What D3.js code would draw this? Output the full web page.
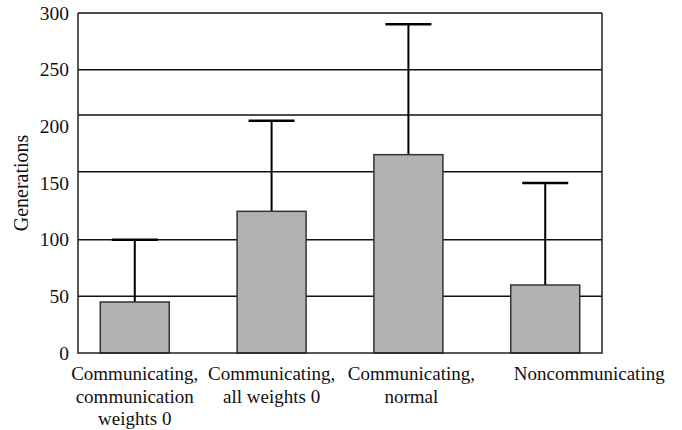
<!DOCTYPE html>
<html><head><meta charset="utf-8">
<script src="https://cdn.jsdelivr.net/npm/d3@7"></script>
<style>body{margin:0;background:#fff}svg{display:block}text{font-family:'Liberation Serif','Times New Roman',serif}</style>
</head><body>
<svg id="c" width="682" height="430"></svg>
<script>
const categories = [
  ["Communicating,", "communication", "weights 0"],
  ["Communicating,", "all weights 0"],
  ["Communicating,", "normal"],
  ["Noncommunicating"]
];
const means = [45, 125, 175, 60];
const errorTops = [100, 205, 290, 150];
const tickValues = [0, 50, 100, 150, 200, 250, 300];
const gridValues = [50, 100, 160, 210, 250, 300];
const yTitle = "Generations";

const svg = d3.select("#c");
const font = "'Liberation Serif','Times New Roman',serif";
const L = 78, R = 602, T = 13, B = 353;
const x = d3.scalePoint().domain(d3.range(categories.length)).range([L, R]).padding(0.415);
const y = d3.scaleLinear().domain([0, 300]).range([B, T]);
const barW = 69, capW = 46;
const labelShift = [0, 0, 3, 44];

// gridlines
svg.append("g").selectAll("line").data(gridValues).join("line")
  .attr("x1", L).attr("x2", R).attr("y1", d => y(d)).attr("y2", d => y(d))
  .attr("stroke", "#111").attr("stroke-width", 1.5);

// error bars
const eb = svg.append("g");
eb.selectAll("line.v").data(means).join("line").attr("class","v")
  .attr("x1", (d,i) => x(i)).attr("x2", (d,i) => x(i))
  .attr("y1", d => y(d)).attr("y2", (d,i) => y(errorTops[i]))
  .attr("stroke", "#000").attr("stroke-width", 2);
eb.selectAll("line.c").data(errorTops).join("line").attr("class","c")
  .attr("x1", (d,i) => x(i) - capW/2).attr("x2", (d,i) => x(i) + capW/2)
  .attr("y1", d => y(d)).attr("y2", d => y(d))
  .attr("stroke", "#000").attr("stroke-width", 2.5);

// bars
svg.append("g").selectAll("rect").data(means).join("rect")
  .attr("x", (d,i) => x(i) - barW/2).attr("width", barW)
  .attr("y", d => y(d)).attr("height", d => y(0) - y(d))
  .attr("fill", "#b2b2b2").attr("stroke", "#333").attr("stroke-width", 1.5);

// frame
svg.append("path").attr("d", `M${L},${T}V${B}H${R}V${T}`)
  .attr("fill", "none").attr("stroke", "#222").attr("stroke-width", 1.5);

// y axis labels
const yAxis = d3.axisLeft(y).tickValues(tickValues).tickSize(0).tickPadding(9);
const ya = svg.append("g").attr("transform", `translate(${L},0)`).call(yAxis);
ya.attr("font-family", null).attr("font-size", null);
ya.select(".domain").remove();
ya.selectAll("text").style("font-family", font).style("font-size", "19.5px").attr("fill", "#111");

// x labels
const xl = svg.append("g").selectAll("text").data(categories).join("text")
  .attr("x", (d,i) => x(i) + labelShift[i]).attr("y", 380)
  .attr("text-anchor", "middle").style("font-family", font).style("font-size", "19px").attr("fill", "#111");
xl.selectAll("tspan").data(d => d).join("tspan")
  .attr("x", function(){ return this.parentNode.getAttribute("x"); })
  .attr("dy", (d,j) => j === 0 ? 0 : 22.5)
  .text(d => d);

// y title
svg.append("text").attr("transform", `translate(28,${(T+B)/2}) rotate(-90)`)
  .attr("text-anchor", "middle").style("font-family", font).style("font-size", "20px").attr("fill", "#111")
  .text(yTitle);
</script>
</body></html>
